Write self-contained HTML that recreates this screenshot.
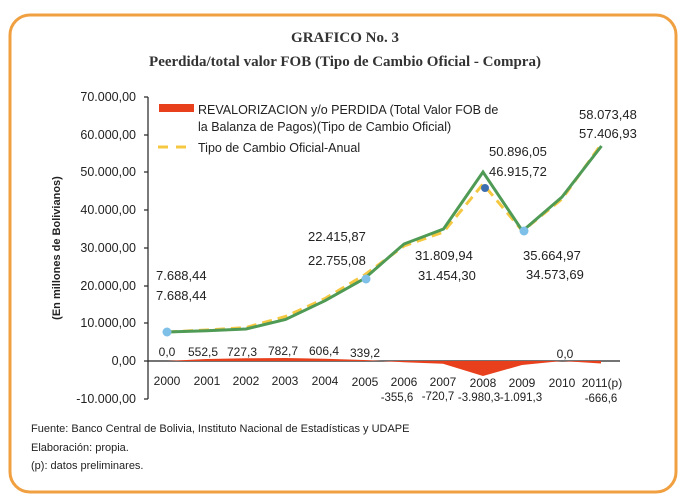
<!DOCTYPE html>
<html><head><meta charset="utf-8"><style>
html,body{margin:0;padding:0;background:#fff;}
svg{display:block;}
</style></head><body>
<svg width="690" height="503" viewBox="0 0 690 503" xmlns="http://www.w3.org/2000/svg" font-family="Liberation Sans, sans-serif">
<rect x="0" y="0" width="690" height="503" fill="#fff"/>
<rect x="10" y="15" width="666" height="477" rx="20" ry="20" fill="none" stroke="#f0a040" stroke-width="3"/>
<text x="345" y="42" text-anchor="middle" font-family="Liberation Serif, serif" font-weight="bold" font-size="15" fill="#333">GRAFICO No. 3</text>
<text x="345" y="66" text-anchor="middle" font-family="Liberation Serif, serif" font-weight="bold" font-size="15" fill="#333">Peerdida/total valor FOB (Tipo de Cambio Oficial - Compra)</text>
<g stroke="#222" stroke-width="1.2">
<line x1="148" y1="97" x2="148" y2="399"/>
<line x1="144" y1="97" x2="148" y2="97"/><line x1="144" y1="135" x2="148" y2="135"/><line x1="144" y1="172" x2="148" y2="172"/><line x1="144" y1="210" x2="148" y2="210"/><line x1="144" y1="248" x2="148" y2="248"/><line x1="144" y1="286" x2="148" y2="286"/><line x1="144" y1="323" x2="148" y2="323"/><line x1="144" y1="361" x2="148" y2="361"/><line x1="144" y1="399" x2="148" y2="399"/>
<line x1="148" y1="361" x2="620" y2="361"/>
</g>
<g font-size="12.5" fill="#222" text-anchor="end">
<text x="136" y="101">70.000,00</text><text x="136" y="139">60.000,00</text><text x="136" y="176">50.000,00</text><text x="136" y="214">40.000,00</text><text x="136" y="252">30.000,00</text><text x="136" y="290">20.000,00</text><text x="136" y="327">10.000,00</text><text x="136" y="365">0,00</text><text x="136" y="403">-10.000,00</text>
</g>
<text transform="translate(60,248) rotate(-90)" text-anchor="middle" font-size="11" font-weight="bold" fill="#222">(En millones de Bolivianos)</text>
<path d="M167,361 L206,359 L246,358.3 L285,358 L325,358.7 L364,360 L404,362.3 L443,363.7 L483,376 L522,365 L562,361 L601,363.5 L601,361 Z" fill="#e8401c"/>
<polyline points="167,332 206.5,330 246,327.5 285.5,316.5 325,298.5 364.5,275 404,246 443.5,232 483,184 522.5,231 562,199 601.5,144" fill="none" stroke="#f5c842" stroke-width="3" stroke-dasharray="10,6"/>
<polyline points="167,332 206.5,330.8 246,329 285.5,319.5 325,300.7 364.5,278.5 404,244 443.5,229 483,172 522.5,231 562,197 601.5,146" fill="none" stroke="#4f9a55" stroke-width="3"/>
<circle cx="167" cy="332" r="4.5" fill="#7ec0e8"/><circle cx="366" cy="279" r="4.5" fill="#7ec0e8"/><circle cx="485" cy="188" r="4" fill="#3d6fb0"/><circle cx="524" cy="231" r="4.5" fill="#7ec0e8"/>
<g font-size="12" fill="#222" text-anchor="middle">
<text x="167" y="385">2000</text><text x="207" y="385">2001</text><text x="246" y="385">2002</text><text x="285" y="385">2003</text><text x="325" y="385">2004</text><text x="365" y="386">2005</text><text x="404" y="386">2006</text><text x="443" y="386">2007</text><text x="483" y="387">2008</text><text x="522" y="387">2009</text><text x="562" y="387">2010</text><text x="602" y="387">2011(p)</text>
</g>
<g font-size="11.5" fill="#222" text-anchor="middle">
<text x="397" y="401">-355,6</text><text x="438" y="400">-720,7</text><text x="479" y="401">-3.980,3</text><text x="521" y="401">-1.091,3</text><text x="601" y="402">-666,6</text>
</g>
<g font-size="12" fill="#222" text-anchor="middle">
<text x="167" y="356">0,0</text><text x="203" y="356">552,5</text><text x="242" y="356">727,3</text><text x="283" y="355">782,7</text><text x="324" y="355">606,4</text><text x="365" y="357">339,2</text><text x="565" y="358">0,0</text>
</g>
<g font-size="13" fill="#222">
<text x="156" y="280">7.688,44</text><text x="156" y="300">7.688,44</text>
<text x="308" y="241">22.415,87</text><text x="308" y="265">22.755,08</text>
<text x="415" y="260">31.809,94</text><text x="418" y="280">31.454,30</text>
<text x="489" y="156">50.896,05</text><text x="489" y="176">46.915,72</text>
<text x="523" y="260">35.664,97</text><text x="526" y="279">34.573,69</text>
<text x="579" y="119">58.073,48</text><text x="579" y="138">57.406,93</text>
</g>
<rect x="159" y="104" width="35" height="8" fill="#e8401c"/>
<text x="198" y="114" font-size="12.5" fill="#222">REVALORIZACION y/o PERDIDA (Total Valor FOB de</text>
<text x="198" y="131" font-size="12.5" fill="#222">la Balanza de Pagos)(Tipo de Cambio Oficial)</text>
<line x1="158" y1="147" x2="192" y2="147" stroke="#f5c842" stroke-width="3" stroke-dasharray="10,8"/>
<text x="198" y="152" font-size="12.5" fill="#222">Tipo de Cambio Oficial-Anual</text>
<g font-size="11" fill="#222">
<text x="31" y="432">Fuente: Banco Central de Bolivia, Instituto Nacional de Estadísticas y UDAPE</text>
<text x="31" y="451">Elaboración: propia.</text>
<text x="31" y="469">(p): datos preliminares.</text>
</g>
</svg>
</body></html>
